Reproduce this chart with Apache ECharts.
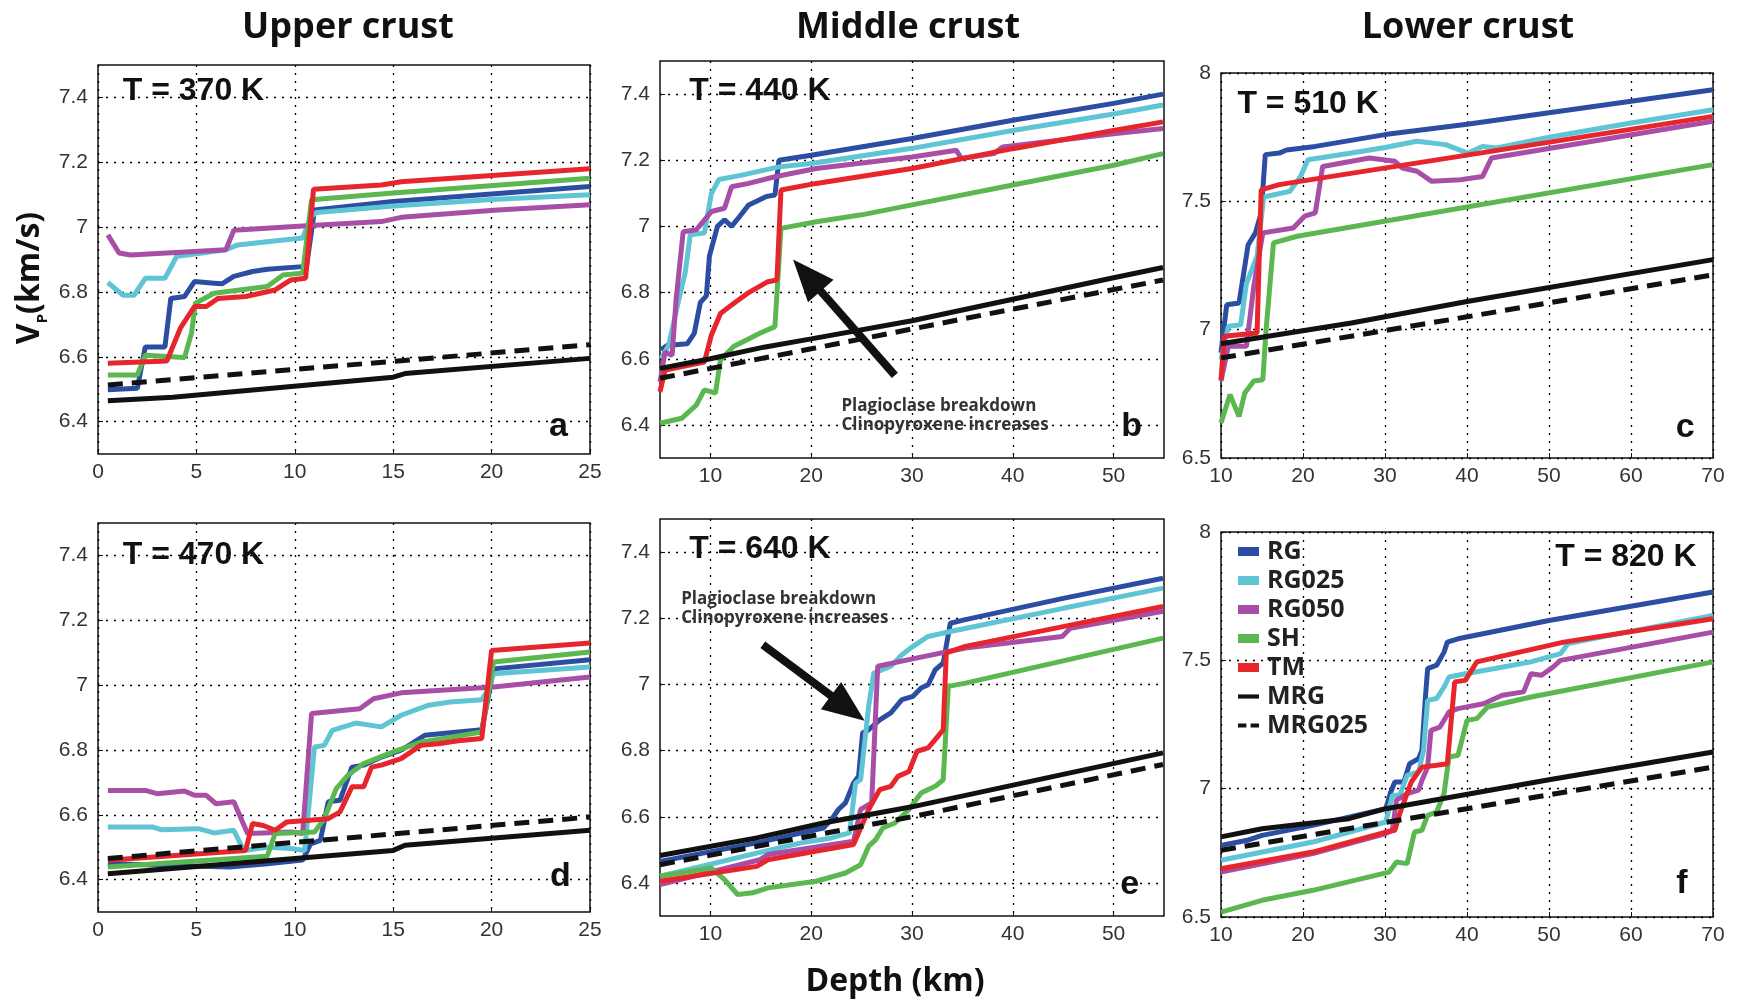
<!DOCTYPE html>
<html><head><meta charset="utf-8">
<script src="https://cdn.jsdelivr.net/npm/echarts@6.0.0/dist/echarts.min.js"></script>
<style>html,body{margin:0;padding:0;background:#fff}#c{width:1741px;height:1003px}</style>
</head><body><div id="c"></div>
<script>
// ---------------- DATA ----------------
const seriesNames = ['RG','RG025','RG050','SH','TM','MRG','MRG025'];
const columnTitles = ['Upper crust','Middle crust','Lower crust'];
const tempLabels = ['T = 370 K','T = 440 K','T = 510 K','T = 470 K','T = 640 K','T = 820 K'];
const panelLetters = ['a','b','c','d','e','f'];
const annotationLines = ['Plagioclase breakdown','Clinopyroxene increases'];
const yTitle = 'V', ySub = 'P', yUnit = '(km/s)';
const xTitle = 'Depth (km)';

const xTicksUpper = [0,5,10,15,20,25];
const xTicksMiddle = [10,20,30,40,50];
const xTicksLower = [10,20,30,40,50,60,70];
const yTicksUpperMiddle = [6.4,6.6,6.8,7,7.2,7.4];
const yTicksLower = [6.5,7,7.5,8];

// panel a (T = 370 K)
const a_RG = [[0.5,6.498],[2.0,6.503],[2.4,6.63],[3.4,6.63],[3.7,6.78],[4.4,6.786],[4.9,6.832],[5.9,6.827],[6.3,6.825],[6.9,6.848],[7.85,6.863],[8.6,6.87],[10.4,6.878],[10.6,6.88],[11.0,7.053],[15,7.079],[20,7.102],[25,7.125]];
const a_RG025 = [[0.5,6.829],[1.26,6.79],[1.84,6.79],[2.4,6.842],[3.4,6.842],[4.0,6.91],[4.55,6.914],[6.5,6.93],[7.1,6.945],[8.6,6.955],[10.4,6.966],[10.8,7.03],[11.1,7.045],[15,7.065],[20,7.085],[25,7.10]];
const a_RG050 = [[0.5,6.976],[1.07,6.92],[1.65,6.914],[6.5,6.93],[6.9,6.99],[10.6,7.004],[14.4,7.017],[15.4,7.03],[20.3,7.053],[25,7.069]];
const a_SH = [[0.5,6.544],[2.0,6.544],[2.4,6.605],[4.4,6.598],[4.75,6.673],[4.95,6.765],[5.9,6.796],[8.6,6.817],[9.4,6.852],[10.4,6.858],[10.85,7.084],[15,7.105],[25,7.151]];
const a_TM = [[0.5,6.58],[3.5,6.587],[4.2,6.69],[4.9,6.755],[5.5,6.755],[6.1,6.78],[7.5,6.786],[9.0,6.806],[9.8,6.837],[10.55,6.842],[10.95,7.117],[14.4,7.13],[15.4,7.14],[25,7.18]];
const a_MRG = [[0.5,6.464],[3.8,6.475],[15,6.537],[15.6,6.548],[25,6.595]];
const a_MRG025 = [[0.5,6.513],[15,6.586],[25,6.637]];

// panel b (T = 440 K)
const b_RG = [[5.1,6.627],[5.7,6.64],[7.7,6.645],[8.4,6.677],[9.0,6.77],[9.6,6.79],[9.9,6.91],[10.7,7.0],[11.4,7.02],[12.1,7.0],[12.9,7.03],[13.8,7.065],[15.5,7.09],[16.4,7.095],[16.8,7.2],[20,7.215],[30,7.266],[40,7.321],[50,7.372],[54.9,7.40]];
const b_RG025 = [[5.1,6.6],[5.85,6.64],[6.8,6.77],[7.5,6.86],[8.0,6.975],[9.4,6.98],[10.1,7.1],[10.85,7.142],[13.1,7.155],[16.8,7.18],[20,7.19],[30,7.236],[40,7.29],[50,7.34],[54.9,7.367]];
const b_RG050 = [[5.0,6.53],[5.5,6.62],[6.2,6.61],[6.6,6.78],[7.3,6.984],[8.6,6.99],[10.1,7.045],[11.4,7.055],[12.1,7.12],[13.8,7.13],[16.4,7.15],[20.5,7.175],[30,7.21],[34.4,7.23],[34.9,7.205],[38.1,7.22],[39.0,7.24],[50,7.28],[54.9,7.296]];
const b_SH = [[5.0,6.405],[7.15,6.42],[8.6,6.46],[9.4,6.506],[10.5,6.496],[11.0,6.596],[12.3,6.637],[14.9,6.677],[16.4,6.697],[17.0,6.994],[20.5,7.014],[25,7.035],[30,7.065],[40,7.125],[50,7.185],[54.9,7.22]];
const b_TM = [[5.0,6.5],[5.5,6.566],[9.4,6.59],[10.1,6.672],[11.0,6.737],[12.0,6.76],[13.8,6.8],[15.7,6.833],[16.6,6.838],[17.0,7.11],[20.5,7.13],[30,7.175],[40,7.235],[50,7.29],[54.9,7.316]];
const b_MRG = [[5,6.571],[10,6.6],[15.3,6.635],[20,6.66],[30,6.715],[40,6.78],[50,6.845],[54.9,6.876]];
const b_MRG025 = [[5,6.541],[20,6.63],[30,6.69],[40,6.75],[54.9,6.838]];

// panel c (T = 510 K)
const c_RG = [[10,6.91],[10.7,7.097],[12.2,7.104],[12.9,7.247],[13.3,7.33],[14.2,7.377],[14.9,7.455],[15.4,7.682],[17.1,7.688],[18,7.70],[21.5,7.714],[30,7.76],[40,7.80],[50,7.845],[60,7.89],[70,7.935]];
const c_RG025 = [[10,6.883],[10.9,7.013],[12.4,7.019],[13.1,7.18],[14.4,7.286],[15.2,7.517],[18.4,7.539],[19.7,7.597],[20.6,7.662],[25.9,7.688],[30,7.71],[33.9,7.734],[37.4,7.721],[40.1,7.688],[41.9,7.714],[43.6,7.708],[50,7.75],[60,7.805],[70,7.857]];
const c_RG050 = [[10,6.80],[10.9,6.935],[13.1,6.935],[14.0,7.169],[15.1,7.377],[18.8,7.396],[20.2,7.442],[21.5,7.455],[22.4,7.636],[28.1,7.669],[31.2,7.656],[32.1,7.63],[33.9,7.617],[35.7,7.578],[39.2,7.584],[41.9,7.597],[43.0,7.669],[70,7.812]];
const c_SH = [[10,6.636],[11.1,6.747],[12.2,6.662],[12.9,6.753],[14.0,6.8],[15.1,6.805],[15.5,7.0],[16.4,7.338],[19.3,7.364],[70,7.643]];
const c_TM = [[10,6.805],[10.4,6.974],[14.4,6.987],[14.9,7.545],[17.1,7.565],[40,7.68],[70,7.831]];
const c_MRG = [[10,6.945],[25.9,7.026],[40,7.11],[70,7.273]];
const c_MRG025 = [[10,6.89],[40,7.05],[70,7.214]];

// panel d (T = 470 K)
const d_RG = [[0.5,6.449],[6.7,6.439],[8.6,6.449],[10.4,6.46],[10.8,6.51],[11.3,6.521],[11.7,6.64],[12.3,6.645],[12.9,6.747],[13.5,6.753],[14.4,6.778],[15.4,6.799],[16.6,6.845],[18.3,6.855],[19.5,6.862],[19.8,6.953],[20.1,7.05],[25,7.078]];
const d_RG025 = [[0.5,6.562],[2.8,6.562],[3.2,6.554],[5.1,6.557],[5.9,6.544],[6.9,6.552],[7.4,6.49],[8.6,6.5],[9.8,6.496],[10.5,6.49],[11.0,6.809],[11.5,6.814],[11.9,6.86],[13.1,6.883],[14.4,6.871],[15.4,6.907],[16.8,6.938],[17.9,6.948],[19.5,6.955],[19.8,6.984],[20.1,7.035],[25,7.056]];
const d_RG050 = [[0.5,6.675],[2.4,6.675],[3.0,6.665],[4.4,6.673],[4.9,6.66],[5.5,6.66],[6.0,6.634],[6.9,6.64],[7.6,6.542],[9.8,6.547],[10.4,6.542],[10.85,6.912],[13.3,6.927],[14.0,6.958],[15.4,6.976],[20.1,6.994],[25,7.025]];
const d_SH = [[0.5,6.439],[8.6,6.472],[9.0,6.542],[11.0,6.547],[11.5,6.588],[12.1,6.68],[12.7,6.722],[13.5,6.758],[15,6.794],[16.4,6.824],[19.5,6.855],[20.1,7.071],[25,7.102]];
const d_TM = [[0.5,6.46],[7.5,6.49],[7.85,6.573],[8.4,6.567],[9.0,6.552],[9.6,6.578],[10.75,6.583],[11.7,6.588],[12.3,6.609],[12.9,6.686],[13.5,6.686],[13.9,6.747],[14.4,6.753],[15.4,6.773],[16.4,6.814],[17.3,6.819],[18.3,6.828],[19.5,6.835],[20.0,7.107],[25,7.13]];
const d_MRG = [[0.5,6.418],[15,6.49],[15.6,6.506],[25,6.552]];
const d_MRG025 = [[0.5,6.465],[25,6.593]];

// panel e (T = 640 K)
const e_RG = [[5,6.465],[14.6,6.521],[21.2,6.566],[22.0,6.591],[22.7,6.622],[23.4,6.642],[24.2,6.702],[24.7,6.722],[25.1,6.853],[25.7,6.863],[26.8,6.893],[27.9,6.914],[29.0,6.954],[30.1,6.964],[30.9,6.989],[31.6,6.999],[32.3,7.044],[33.1,7.065],[33.8,7.185],[35.3,7.196],[45,7.26],[54.9,7.321]];
const e_RG025 = [[5,6.42],[14.6,6.49],[19.0,6.521],[22.0,6.536],[23.8,6.551],[24.4,6.702],[24.9,6.712],[25.7,6.934],[26.2,7.034],[27.9,7.055],[29.0,7.09],[30.1,7.115],[31.6,7.145],[33.8,7.16],[45,7.23],[54.9,7.291]];
const e_RG050 = [[5,6.395],[14.9,6.47],[15.7,6.486],[24.2,6.526],[24.9,6.622],[26.0,6.642],[26.6,7.055],[29.7,7.075],[35.3,7.11],[44.9,7.145],[45.7,7.17],[54.9,7.221]];
const e_SH = [[5,6.42],[10.1,6.445],[11.4,6.41],[12.7,6.365],[14.2,6.37],[15.7,6.385],[20.5,6.405],[23.4,6.43],[24.9,6.455],[25.7,6.511],[26.4,6.531],[27.1,6.566],[28.3,6.581],[29.7,6.622],[30.9,6.672],[32.3,6.692],[33.1,6.712],[33.6,6.994],[35.3,7.004],[54.9,7.14]];
const e_TM = [[5,6.405],[14.6,6.45],[15.7,6.47],[24.2,6.516],[25.7,6.622],[26.8,6.682],[27.9,6.692],[28.6,6.722],[29.7,6.737],[30.5,6.798],[31.6,6.808],[32.3,6.833],[33.1,6.863],[33.4,7.095],[35.3,7.115],[54.9,7.236]];
const e_MRG = [[5,6.483],[14.6,6.536],[21.2,6.581],[30,6.63],[54.9,6.793]];
const e_MRG025 = [[5,6.455],[30,6.6],[54.9,6.758]];

// panel f (T = 820 K)
const f_RG = [[10,6.779],[13.2,6.799],[15.0,6.818],[21.2,6.857],[30.1,6.922],[30.7,6.987],[31.2,7.026],[32.3,7.026],[33.0,7.097],[34.1,7.117],[34.5,7.149],[34.9,7.344],[35.2,7.468],[36.3,7.481],[37.2,7.532],[37.6,7.571],[38.9,7.584],[50,7.655],[70,7.766]];
const f_RG025 = [[10,6.721],[21.2,6.792],[30.1,6.87],[30.9,6.974],[31.8,6.974],[32.7,7.052],[34.1,7.065],[34.7,7.149],[35.2,7.344],[36.3,7.351],[37.2,7.396],[37.8,7.435],[39.8,7.448],[43.4,7.468],[47.8,7.494],[51.4,7.526],[52.3,7.565],[70,7.675]];
const f_RG050 = [[10,6.675],[21.2,6.747],[30.1,6.825],[30.9,6.838],[31.4,6.955],[32.7,6.981],[34.1,6.994],[34.5,7.032],[35.2,7.084],[35.6,7.227],[36.7,7.24],[37.8,7.299],[38.9,7.312],[42.0,7.331],[44.3,7.364],[46.9,7.377],[47.8,7.448],[49.1,7.442],[50.5,7.474],[51.4,7.5],[70,7.61]];
const f_SH = [[10,6.519],[15.0,6.565],[21.2,6.604],[30.5,6.675],[31.4,6.714],[32.7,6.708],[33.6,6.831],[34.5,6.838],[35.2,6.896],[36.3,6.909],[37.2,6.981],[37.8,7.123],[38.9,7.13],[40.0,7.266],[41.2,7.273],[42.5,7.318],[47.8,7.357],[70,7.494]];
const f_TM = [[10,6.688],[21.2,6.753],[30.1,6.831],[31.2,6.838],[31.8,6.903],[33.2,7.026],[34.5,7.084],[36.3,7.091],[37.6,7.097],[38.5,7.416],[39.8,7.422],[41.2,7.494],[45.6,7.526],[51.8,7.571],[70,7.662]];
const f_MRG = [[10,6.812],[15,6.844],[25.6,6.883],[30.1,6.922],[50,7.035],[70,7.143]];
const f_MRG025 = [[10,6.76],[40,6.922],[70,7.084]];

// annotation arrows (data coordinates: tail -> tip)
const arrowB = [[28.3,6.55],[18.2,6.90]];
const arrowE = [[15.2,7.12],[25.3,6.89]];

// ---------------- BUILD ----------------
const panelData = [
  [a_RG,a_RG025,a_RG050,a_SH,a_TM,a_MRG,a_MRG025],
  [b_RG,b_RG025,b_RG050,b_SH,b_TM,b_MRG,b_MRG025],
  [c_RG,c_RG025,c_RG050,c_SH,c_TM,c_MRG,c_MRG025],
  [d_RG,d_RG025,d_RG050,d_SH,d_TM,d_MRG,d_MRG025],
  [e_RG,e_RG025,e_RG050,e_SH,e_TM,e_MRG,e_MRG025],
  [f_RG,f_RG025,f_RG050,f_SH,f_TM,f_MRG,f_MRG025]
];
const colors = ['#2c4ea2','#5fc4d4','#a84ea6','#5bb74f','#e6262c','#111111','#111111'];
const lineTypes = ['solid','solid','solid','solid','solid','solid',[15,9]];

const grids = [
  {left:98, top:65, width:492, height:389},
  {left:660, top:61, width:504, height:397},
  {left:1221, top:73, width:492, height:385},
  {left:98, top:523, width:492, height:389},
  {left:660, top:519, width:504, height:397},
  {left:1221, top:532, width:492, height:385}
];
const xCfg = [
  {min:0,max:25,ticks:xTicksUpper},{min:5,max:55,ticks:xTicksMiddle},{min:10,max:70,ticks:xTicksLower},
  {min:0,max:25,ticks:xTicksUpper},{min:5,max:55,ticks:xTicksMiddle},{min:10,max:70,ticks:xTicksLower}
];
const yCfg = [
  {min:6.3,max:7.5,ticks:yTicksUpperMiddle},{min:6.3,max:7.5,ticks:yTicksUpperMiddle},{min:6.5,max:8,ticks:yTicksLower},
  {min:6.3,max:7.5,ticks:yTicksUpperMiddle},{min:6.3,max:7.5,ticks:yTicksUpperMiddle},{min:6.5,max:8,ticks:yTicksLower}
];

const tickFont = {fontFamily:'Liberation Sans, Arial, sans-serif', fontSize:21, color:'#333'};
const gridLine = {show:true, lineStyle:{type:[2,6], color:'#000', width:1.3}};

const option = {
  animation:false,
  backgroundColor:'#fff',
  grid: grids.map(g => Object.assign({show:true, borderColor:'#111', borderWidth:1.5, backgroundColor:'transparent', containLabel:false}, g)),
  xAxis: xCfg.map((c,i) => ({
    type:'value', gridIndex:i, min:c.min, max:c.max,
    axisLine:{show:false},
    axisTick:{show:true, inside:true, length:5, customValues:c.ticks, lineStyle:{color:'#111'}},
    axisLabel:Object.assign({customValues:c.ticks, margin:8}, tickFont),
    splitLine:gridLine
  })),
  yAxis: yCfg.map((c,i) => ({
    type:'value', gridIndex:i, min:c.min, max:c.max,
    axisLine:{show:false},
    axisTick:{show:true, inside:true, length:5, customValues:c.ticks, lineStyle:{color:'#111'}},
    axisLabel:Object.assign({customValues:c.ticks, margin:10}, tickFont),
    splitLine:gridLine
  })),
  legend: {
    orient:'vertical', left:1233, top:534, itemWidth:21, itemHeight:9, itemGap:4,
    selectedMode:false, symbolKeepAspect:true,
    textStyle:{fontFamily:'Open Sans', fontWeight:'bold', fontSize:25, color:'#222', padding:[0,0,0,3]},
    data: [
      {name:seriesNames[0], icon:'rect'},
      {name:seriesNames[1], icon:'rect'},
      {name:seriesNames[2], icon:'rect'},
      {name:seriesNames[3], icon:'rect'},
      {name:seriesNames[4], icon:'rect'},
      {name:seriesNames[5], icon:'path://M0,0 L20,0 L20,4 L0,4 Z'},
      {name:seriesNames[6], icon:'path://M0,0 L8,0 L8,4 L0,4 Z M12,0 L20,0 L20,4 L12,4 Z'}
    ]
  },
  series: []
};

panelData.forEach((arrs, p) => {
  arrs.forEach((d, k) => {
    option.series.push({
      name: seriesNames[k], type:'line', xAxisIndex:p, yAxisIndex:p,
      data: d, showSymbol:false, symbol:'none', clip:true,
      lineStyle:{color:colors[k], width:5, type:lineTypes[k]},
      itemStyle:{color:colors[k]},
      emphasis:{disabled:true}, z: 2 + k
    });
  });
});

const chart = echarts.init(document.getElementById('c'), null, {width:1741, height:1003});
chart.setOption(option);

// ------------- annotations -------------
const P = (g, x, y) => chart.convertToPixel({gridIndex:g}, [x, y]);
const boldSans = 'Liberation Sans, Arial, sans-serif';
const graphics = [];
function txt(x, y, text, font, size, align, valign, fill){
  graphics.push({
    type:'text', x:x, y:y, silent:true, z:50,
    style:{text:text, fontFamily:font, fontWeight:'bold', fontSize:size, fill:fill || '#111',
      align:align, verticalAlign:valign, textAlign:align, textVerticalAlign:valign}
  });
}
// column titles
[348, 908, 1468].forEach((x, i) => txt(x, 28, columnTitles[i], 'Open Sans', 36, 'center', 'middle'));
// x title
txt(895, 982, xTitle, 'Open Sans', 32, 'center', 'middle');
// y title with subscript
graphics.push({
  type:'text', x:30, y:278, rotation:Math.PI/2, silent:true, z:50,
  style:{
    text:'{v|' + yTitle + '}{s|' + ySub + '}{v|' + yUnit + '}',
    align:'center', verticalAlign:'middle', textAlign:'center', textVerticalAlign:'middle', fill:'#111',
    rich:{
      v:{fontFamily:'Open Sans', fontWeight:'bold', fontSize:32, lineHeight:40, fill:'#111', verticalAlign:'middle'},
      s:{fontFamily:'Open Sans', fontWeight:'bold', fontSize:15, lineHeight:40, fill:'#111', verticalAlign:'bottom'}
    }
  }
});
// temperature labels
const tPos = [[0,1.26,7.42,'left'],[1,7.9,7.41,'left'],[2,12.0,7.877,'left'],[3,1.26,7.40,'left'],[4,7.9,7.41,'left'],[5,68.0,7.90,'right']];
tPos.forEach((t, i) => { const q = P(t[0], t[1], t[2]); txt(q[0], q[1], tempLabels[i], boldSans, 32, t[3], 'middle'); });
// panel letters
const lPos = [[0,23.4,6.385],[1,51.8,6.395],[2,66.6,6.62],[3,23.5,6.41],[4,51.6,6.395],[5,66.2,6.63]];
lPos.forEach((t, i) => { const q = P(t[0], t[1], t[2]); txt(q[0], q[1], panelLetters[i], boldSans, 34, 'center', 'middle'); });
// plagioclase annotations
const qb1 = P(1, 23.0, 6.458), qb2 = P(1, 23.0, 6.398);
const qe1 = P(4, 7.1, 7.258), qe2 = P(4, 7.1, 7.200);
txt(qb1[0], qb1[1], annotationLines[0], 'Open Sans', 17, 'left', 'middle', '#333');
txt(qb2[0], qb2[1], annotationLines[1], 'Open Sans', 17, 'left', 'middle', '#333');
txt(qe1[0], qe1[1], annotationLines[0], 'Open Sans', 17, 'left', 'middle', '#333');
txt(qe2[0], qe2[1], annotationLines[1], 'Open Sans', 17, 'left', 'middle', '#333');
// arrows
function arrow(g, ar){
  const t = P(g, ar[0][0], ar[0][1]), h = P(g, ar[1][0], ar[1][1]);
  const dx = h[0]-t[0], dy = h[1]-t[1], L = Math.sqrt(dx*dx+dy*dy);
  const ux = dx/L, uy = dy/L, nx = -uy, ny = ux;
  const headLen = 42, headHalf = 17;
  const bx = h[0]-ux*headLen, by = h[1]-uy*headLen;
  graphics.push({type:'line', silent:true, z:40,
    shape:{x1:t[0], y1:t[1], x2:bx+ux*4, y2:by+uy*4},
    style:{stroke:'#111', lineWidth:8}});
  graphics.push({type:'polygon', silent:true, z:41,
    shape:{points:[[h[0],h[1]],[bx+nx*headHalf, by+ny*headHalf],[bx-nx*headHalf, by-ny*headHalf]]},
    style:{fill:'#111'}});
}
arrow(1, arrowB);
arrow(4, arrowE);

chart.setOption({graphic: graphics});
</script>
</body></html>
